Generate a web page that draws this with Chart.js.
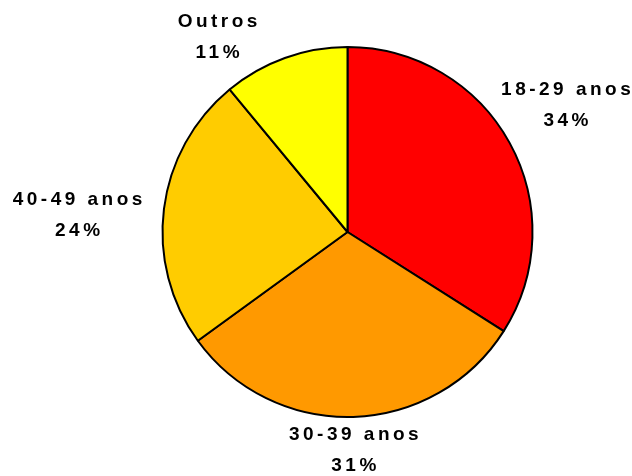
<!DOCTYPE html>
<html>
<head>
<meta charset="utf-8">
<script src="https://cdn.jsdelivr.net/npm/chart.js@4.4.1/dist/chart.umd.min.js"></script>
<style>
  html, body { margin: 0; padding: 0; background: #fff; }
  #wrap { width: 632px; height: 476px; }
</style>
</head>
<body>
<div id="wrap"><canvas id="myChart" width="632" height="476"></canvas></div>
<script>
var categorias = ['18-29 anos', '30-39 anos', '40-49 anos', 'Outros'];
var percentuais = [34, 31, 24, 11];
var cores = ['#FF0000', '#FF9900', '#FFCC00', '#FFFF00'];

// label nudges relative to a point just outside the slice (style, not data)
var ajustes = [[21, -18], [-1, -7], [-47, 11], [-54, 17]];

var rotulos = {
  id: 'rotulos',
  afterDraw: function (chart) {
    var ctx = chart.ctx;
    var meta = chart.getDatasetMeta(0);
    ctx.save();
    ctx.fillStyle = '#000';
    ctx.font = 'bold 19px "Liberation Sans", Arial, sans-serif';
    ctx.letterSpacing = '3.5px';
    ctx.textAlign = 'center';
    ctx.textBaseline = 'middle';
    meta.data.forEach(function (arc, i) {
      var mid = (arc.startAngle + arc.endAngle) / 2;
      var d = arc.outerRadius + 40;
      var x = arc.x + Math.cos(mid) * d + ajustes[i][0] + 2;
      var y = arc.y + Math.sin(mid) * d + ajustes[i][1];
      ctx.fillText(categorias[i], x, y - 15.5);
      ctx.fillText(percentuais[i] + '%', x, y + 15.5);
    });
    ctx.restore();
  }
};

var ctx = document.getElementById('myChart');
var chart = new Chart(ctx, {
  type: 'pie',
  data: {
    labels: categorias,
    datasets: [{
      data: percentuais,
      backgroundColor: cores,
      borderColor: '#000',
      borderWidth: 2,
      hoverOffset: 0
    }]
  },
  options: {
    responsive: false,
    animation: false,
    layout: { padding: { top: 46, bottom: 58, left: 63, right: 0 } },
    plugins: {
      legend: { display: false },
      tooltip: { enabled: false }
    }
  },
  plugins: [rotulos]
});
</script>
</body>
</html>
